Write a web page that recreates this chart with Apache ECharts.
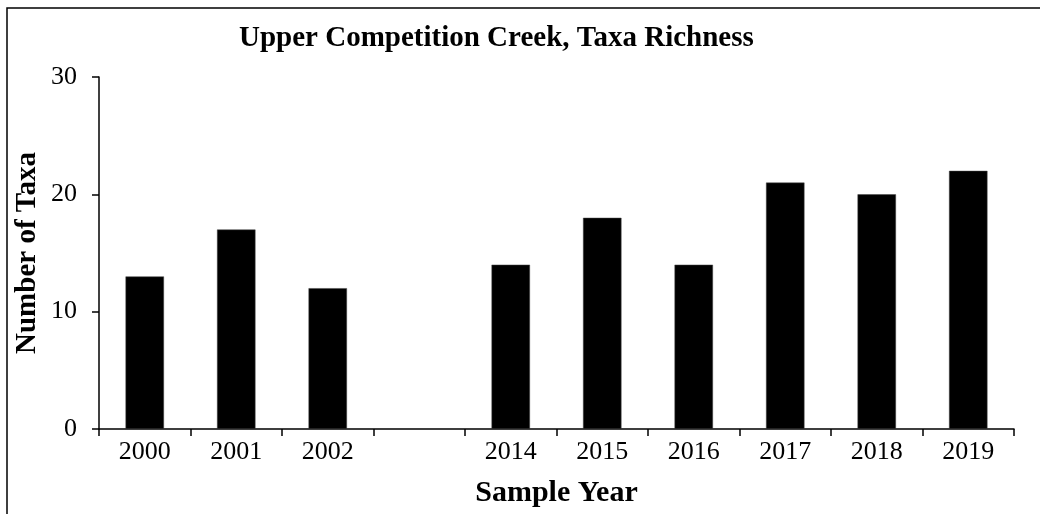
<!DOCTYPE html>
<html>
<head>
<meta charset="utf-8">
<script src="https://cdn.jsdelivr.net/npm/echarts@6/dist/echarts.min.js"></script>
<style>
  html, body { margin: 0; padding: 0; background: #fff; }
  #chart { width: 1040px; height: 514px; }
</style>
</head>
<body>
<div id="chart"></div>
<script>
// sample years (blank slot = gap between 2002 and 2014)
var years = ["2000", "2001", "2002", "", "2014", "2015", "2016", "2017", "2018", "2019"];
// number of taxa per year
var taxa = [13, 17, 12, "-", 14, 18, 14, 21, 20, 22];
var yTicks = [0, 10, 20, 30];

var serif = "'Liberation Serif', 'Times New Roman', serif";

var chart = echarts.init(document.getElementById("chart"));
var option = {
  backgroundColor: "#fff",
  animation: false,
  title: {
    text: "Upper Competition Creek, Taxa Richness",
    left: 234,
    top: 19,
    textStyle: {
      color: "#000",
      fontSize: 29,
      fontWeight: "bold",
      fontFamily: serif
    }
  },
  graphic: [
    {
      type: "rect",
      shape: { x: 7, y: 8, width: 1200, height: 700 },
      style: { fill: "none", stroke: "#000", lineWidth: 1.5 },
      silent: true
    }
  ],
  grid: { left: 99, right: 26, top: 77, bottom: 85 },
  xAxis: {
    type: "category",
    data: years,
    name: "Sample Year",
    nameLocation: "middle",
    nameGap: 49,
    nameTextStyle: {
      color: "#000",
      fontSize: 30,
      fontWeight: "bold",
      fontFamily: serif
    },
    axisLine: { lineStyle: { color: "#000", width: 1.5 } },
    axisTick: { show: true, length: 7, lineStyle: { color: "#000", width: 1.5 } },
    axisLabel: {
      color: "#000",
      fontSize: 26,
      fontFamily: serif,
      margin: 10,
      interval: 0
    }
  },
  yAxis: {
    type: "value",
    min: yTicks[0],
    max: yTicks[yTicks.length - 1],
    interval: 10,
    name: "Number of Taxa",
    nameLocation: "middle",
    nameMoveOverlap: false,
    nameGap: 57,
    nameTextStyle: {
      color: "#000",
      fontSize: 29,
      fontWeight: "bold",
      fontFamily: serif
    },
    axisLine: { show: true, lineStyle: { color: "#000", width: 1.5 } },
    axisTick: { show: true, length: 7, lineStyle: { color: "#000", width: 1.5 } },
    splitLine: { show: false },
    axisLabel: {
      color: "#000",
      fontSize: 26,
      fontFamily: serif,
      margin: 22
    }
  },
  series: [
    {
      type: "bar",
      data: taxa,
      barWidth: "42%",
      itemStyle: { color: "#000", borderColor: "#444", borderWidth: 0.5 }
    }
  ]
};
chart.setOption(option);
</script>
</body>
</html>
